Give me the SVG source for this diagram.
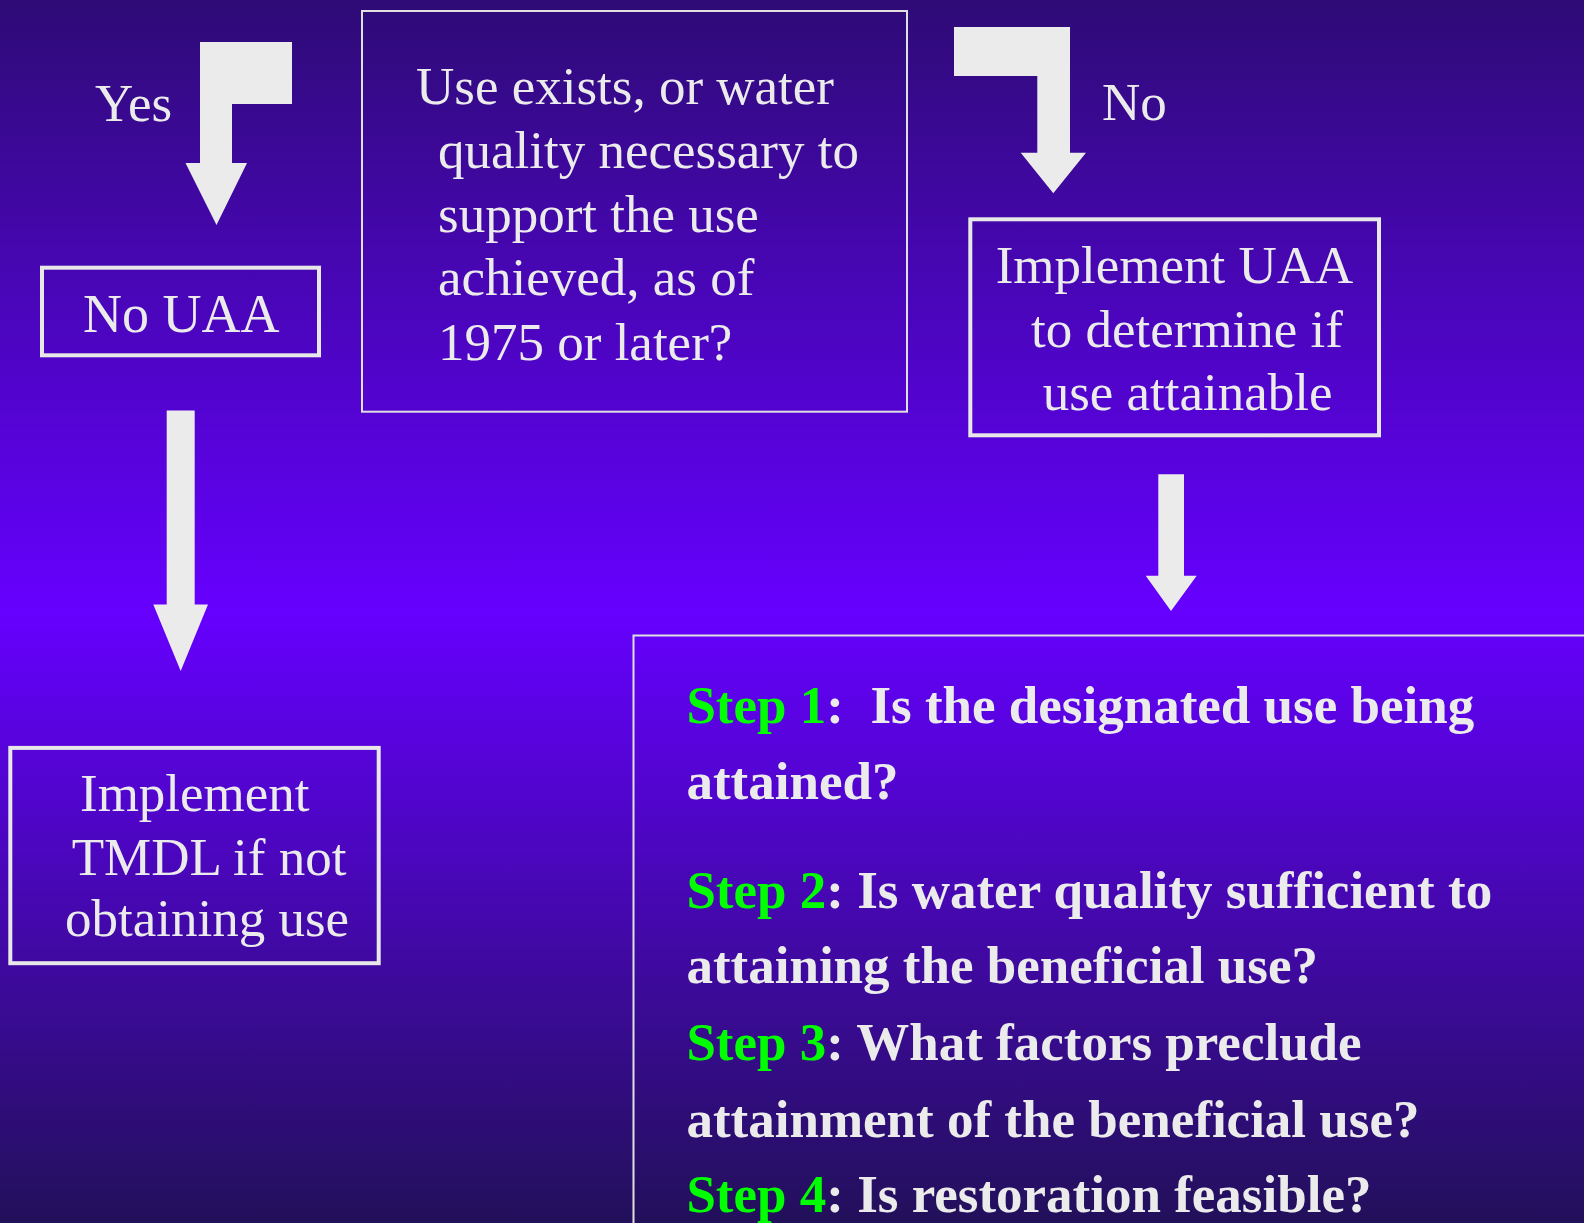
<svg xmlns="http://www.w3.org/2000/svg" width="1584" height="1223" viewBox="0 0 1584 1223">
<defs>
<linearGradient id="bg" x1="0" y1="0" x2="0" y2="1223" gradientUnits="userSpaceOnUse">
<stop offset="0" stop-color="#2e0b76"/>
<stop offset="0.5" stop-color="#6600ff"/>
<stop offset="1" stop-color="#22105a"/>
</linearGradient>
<style>
.t{font-family:"Liberation Serif","Times New Roman",serif;font-size:53px;fill:#ebebeb}
.b{font-family:"Liberation Serif","Times New Roman",serif;font-size:53px;font-weight:bold;fill:#ebebeb}
.g{fill:#00ff00}
.box{fill:none;stroke:#e8e8e8;stroke-width:4}
.thin{fill:none;stroke:#e0e0e0;stroke-width:2}
.arr{fill:#ebebeb}
</style>
</defs>
<rect x="0" y="0" width="1584" height="1223" fill="url(#bg)"/>
<g id="connectors">
<polygon class="arr" points="200,42 292,42 292,104 232,104 232,163 247,163 216.5,225 185.5,163 200,163"/>
<polygon class="arr" points="954,27 1070,27 1070,152.7 1086,152.7 1053.3,193.3 1020.7,152.7 1037.3,152.7 1037.3,76 954,76"/>
<polygon class="arr" points="166.7,410.4 194.7,410.4 194.7,604.6 208,604.6 180.7,671 153.3,604.6 166.7,604.6"/>
<polygon class="arr" points="1158.3,474.3 1184,474.3 1184,575.7 1196.7,575.7 1171,611 1145.7,575.7 1158.3,575.7"/>
<text class="t" x="95" y="121">Yes</text>
<text class="t" x="1102" y="120">No</text>
</g>
<g id="question">
<rect class="thin" x="362" y="11" width="545" height="400.7"/>
<text class="t" x="416" y="104.3">Use exists, or water</text>
<text class="t" x="438" y="168.3">quality necessary to</text>
<text class="t" x="438" y="231.7">support the use</text>
<text class="t" x="438" y="295">achieved, as of</text>
<text class="t" x="438" y="360">1975 or later?</text>
</g>
<g id="no-uaa">
<rect class="box" x="42" y="267.7" width="277" height="87.6"/>
<text class="t" x="83" y="331.7" style="font-size:54px">No UAA</text>
</g>
<g id="implement-uaa">
<rect class="box" x="970.3" y="219.3" width="408.7" height="216"/>
<text class="t" x="995.7" y="283.3">Implement UAA</text>
<text class="t" x="1031" y="346.7">to determine if</text>
<text class="t" x="1042.7" y="410">use attainable</text>
</g>
<g id="tmdl">
<rect class="box" x="10.3" y="747.9" width="368.4" height="215.3"/>
<text class="t" x="80" y="810.6">Implement</text>
<text class="t" x="71.7" y="874.6">TMDL if not</text>
<text class="t" x="65" y="936.4">obtaining use</text>
</g>
<g id="steps">
<rect class="thin" x="633.5" y="635.5" width="1000" height="700"/>
<text class="b" x="686.4" y="723" xml:space="preserve"><tspan class="g">Step 1</tspan>:  Is the designated use being</text>
<text class="b" x="686.4" y="798.8">attained?</text>
<text class="b" x="686.4" y="907.7"><tspan class="g">Step 2</tspan>: Is water quality sufficient to</text>
<text class="b" x="686.4" y="983.4">attaining the beneficial use?</text>
<text class="b" x="686.4" y="1060.3"><tspan class="g">Step 3</tspan>: What factors preclude</text>
<text class="b" x="686.4" y="1136.5">attainment of the beneficial use?</text>
<text class="b" x="686.4" y="1212.3"><tspan class="g">Step 4</tspan>: Is restoration feasible?</text>
</g>
</svg>
